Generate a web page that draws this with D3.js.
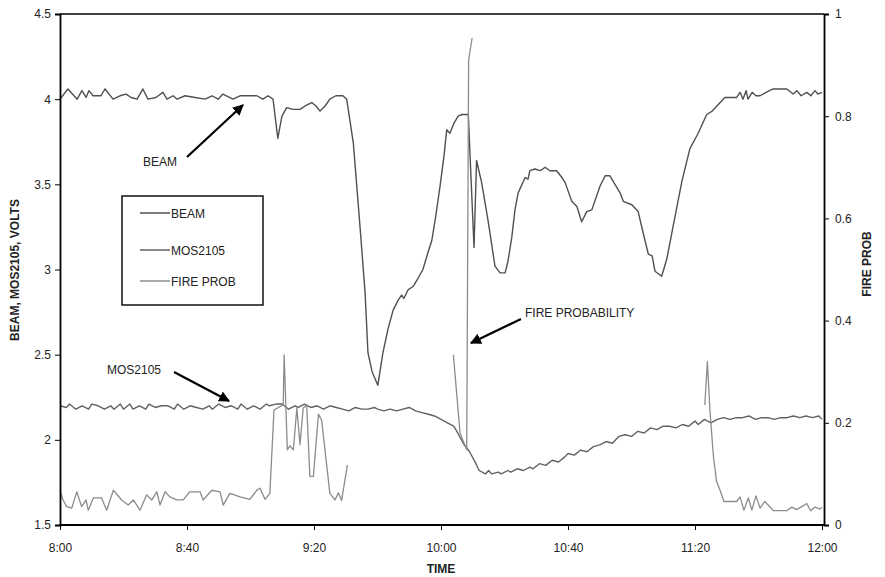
<!DOCTYPE html>
<html><head><meta charset="utf-8">
<script src="https://cdn.jsdelivr.net/npm/d3@7"></script>
<style>body{margin:0;background:#fff}svg{display:block;font-family:"Liberation Sans",Arial,sans-serif}</style>
</head><body><svg id="c" width="885" height="577"></svg>
<script>
// x values are minutes after 8:00
const xTickMinutes = [0, 40, 80, 120, 160, 200, 240];
const xTickLabels = ["8:00", "8:40", "9:20", "10:00", "10:40", "11:20", "12:00"];
const leftTicks = [1.5, 2, 2.5, 3, 3.5, 4, 4.5];
const rightTicks = [0, 0.2, 0.4, 0.6, 0.8, 1];

const beamMin = [0,2.5,5.4,6.9,8.2,9.1,10.4,12.9,14.2,16.7,18.9,20.8,22.4,24.3,26.1,27.7,30.2,32.4,33.7,35.6,36.9,39.4,42.5,45.7,47.9,49.8,51.3,54.5,56.7,62,63.9,65.5,67.1,68.6,69.9,71.4,73.4,75.6,77.2,79.3,80.6,81.9,83.5,85,86.9,89.1,90.3,92.4,94.5,96.1,97,98.3,100.1,101.7,103.3,104.9,106.5,107.6,108.3,109.6,111.2,112.8,114.3,115.9,117.1,118.4,119.7,120.9,121.8,122.8,124.1,125.4,126.6,128.1,128.6,130.4,131.2,132.8,134.8,137,138.6,140.2,141.1,142.3,143.3,144.3,146.5,147.4,148,149.6,151.2,152.8,154.3,156.4,158.1,159.1,161.2,162.8,164.3,165.9,167.5,170.1,171.7,173.2,174.8,176.4,177.4,180.1,182.1,183.6,185.3,186.5,187.4,189.5,191.1,193.7,195.9,198.4,201,202.2,203.7,205.4,206.9,209.4,213.1,214.2,215.1,216.1,216.7,218,219.2,220.5,222.4,224.6,228.9,230.9,232.1,233.4,235.2,236.5,237.8,238.7,240];
const beamVal = [4.00,4.06,4.00,4.05,4.01,4.05,4.02,4.02,4.06,4.00,4.02,4.03,4.01,4.00,4.06,4.00,4.01,4.04,4.00,4.02,4.00,4.02,4.01,4.00,4.02,4.00,4.03,4.00,4.02,4.02,4.00,4.02,4.00,3.77,3.90,3.95,3.94,3.94,3.96,3.98,3.96,3.93,3.96,4.00,4.02,4.02,4.00,3.74,3.25,2.86,2.51,2.40,2.32,2.51,2.65,2.76,2.82,2.85,2.83,2.88,2.90,2.95,3.00,3.10,3.17,3.32,3.49,3.66,3.82,3.80,3.86,3.90,3.91,3.91,3.91,3.13,3.64,3.51,3.29,3.02,2.98,2.98,3.05,3.19,3.35,3.45,3.54,3.53,3.58,3.59,3.58,3.60,3.58,3.58,3.54,3.51,3.40,3.37,3.28,3.34,3.35,3.49,3.55,3.55,3.50,3.45,3.40,3.38,3.34,3.22,3.09,3.08,2.99,2.96,3.06,3.31,3.52,3.71,3.80,3.85,3.91,3.93,3.96,4.01,4.01,4.04,4.00,4.05,4.00,4.04,4.02,4.02,4.04,4.06,4.06,4.03,4.05,4.02,4.04,4.02,4.05,4.03,4.04];

const mosMin = [0,2,3,5,7,9,10,12,14,16,17,19,20,22,23,25,27,28,30,32,34,36,37,39,41,43,45,47,48,50,52,54,56,57,59,61,63,65,66,68,70,72,74,75,77,79,81,83,85,87,89,91,93,95,97,99,100,102,104,106,108,110,112,114,116,118,120,122,124,125,127,129,131,132,134,135,136,138,139,141,142,144,146,148,149,151,153,155,157,159,160,162,164,166,168,170,172,174,176,178,180,182,184,186,188,190,192,194,196,198,200,201,203,205,207,209,211,213,215,217,219,221,223,225,227,229,231,233,235,237,239,240];
const mosVal = [2.20,2.19,2.21,2.18,2.20,2.18,2.21,2.20,2.18,2.20,2.18,2.21,2.18,2.21,2.18,2.20,2.18,2.21,2.19,2.20,2.20,2.18,2.21,2.18,2.20,2.19,2.18,2.20,2.18,2.21,2.19,2.20,2.18,2.21,2.18,2.20,2.18,2.21,2.20,2.21,2.21,2.18,2.20,2.19,2.21,2.19,2.20,2.18,2.20,2.19,2.18,2.17,2.19,2.18,2.18,2.19,2.18,2.17,2.18,2.17,2.18,2.19,2.17,2.16,2.15,2.14,2.12,2.10,2.08,2.05,1.98,1.93,1.86,1.82,1.80,1.82,1.80,1.81,1.80,1.82,1.81,1.83,1.82,1.84,1.83,1.86,1.85,1.88,1.87,1.90,1.92,1.91,1.94,1.93,1.96,1.97,1.99,1.98,2.02,2.03,2.02,2.05,2.04,2.07,2.06,2.08,2.08,2.07,2.09,2.08,2.11,2.09,2.12,2.10,2.12,2.13,2.12,2.13,2.13,2.14,2.12,2.13,2.13,2.12,2.13,2.13,2.14,2.13,2.14,2.13,2.14,2.12];

// null marks a gap in the fire-probability record
const fireMin = [0,0.9,2.1,3.7,5.3,6.8,8.2,8.9,10.5,13.1,14.7,16.8,19.4,21.5,23.1,25.2,27.3,28.9,30.5,31.5,33.1,34.6,36.8,38.8,40.9,44.1,45.1,47.8,50.4,51.4,53.5,56.7,59.8,62,63,64.6,66.1,67.4,70.3,70.6,71.6,72.4,73.5,74.6,75.6,76.6,77.7,78.7,79.8,81.4,82.4,85,86.6,87.7,88.7,90.5,100,123.9,126,128.1,128.7,129.8,170,203.1,203.9,204.7,205.8,206.8,207.9,209.1,213.1,214.2,215.4,216.8,217.9,219.2,220.5,222,224.7,228.9,230.5,232,233.6,235.2,236.4,237.8,239.4,240];
const fireVal = [0.068,0.05,0.036,0.033,0.065,0.036,0.049,0.029,0.053,0.053,0.029,0.068,0.049,0.039,0.049,0.029,0.059,0.049,0.065,0.039,0.065,0.055,0.049,0.049,0.065,0.065,0.049,0.068,0.065,0.039,0.062,0.055,0.05,0.068,0.072,0.05,0.062,0.225,0.235,0.333,0.147,0.155,0.147,0.229,0.157,0.229,0.235,0.095,0.095,0.217,0.205,0.062,0.049,0.063,0.048,0.117,null,0.333,0.18,0.147,0.91,0.953,null,0.235,0.32,0.225,0.134,0.085,0.068,0.046,0.046,0.055,0.029,0.053,0.029,0.057,0.033,0.046,0.028,0.028,0.035,0.03,0.036,0.042,0.028,0.035,0.031,0.035];

const legendLabels = ["BEAM", "MOS2105", "FIRE PROB"];
const colors = {beam: "#505050", mos: "#626262", fire: "#8c8c8c"};

const svg = d3.select("#c");
const L = 60, R = 824, T = 14, B = 525;
const x = d3.scaleLinear().domain([0, 240]).range([L, 822]);
const yL = d3.scaleLinear().domain([1.5, 4.5]).range([B, T]);
const yR = d3.scaleLinear().domain([0, 1]).range([B, T]);

// frame top
svg.append("line").attr("x1", L).attr("x2", R).attr("y1", T).attr("y2", T).attr("stroke", "#000").attr("stroke-width", 1.6);

const lineL = d3.line().defined(d => d[1] != null).x(d => x(d[0])).y(d => yL(d[1]));
const lineR = d3.line().defined(d => d[1] != null).x(d => x(d[0])).y(d => yR(d[1]));

svg.append("path").datum(beamMin.map((m, i) => [m, beamVal[i]])).attr("d", lineL)
  .attr("fill", "none").attr("stroke", colors.beam).attr("stroke-width", 1.4).attr("stroke-linejoin", "round");
svg.append("path").datum(mosMin.map((m, i) => [m, mosVal[i]])).attr("d", lineL)
  .attr("fill", "none").attr("stroke", colors.mos).attr("stroke-width", 1.4).attr("stroke-linejoin", "round");
svg.append("path").datum(fireMin.map((m, i) => [m, fireVal[i]])).attr("d", lineR)
  .attr("fill", "none").attr("stroke", colors.fire).attr("stroke-width", 1.3).attr("stroke-linejoin", "round");

// axes
const fmt = d => String(d);
const gL = svg.append("g").attr("transform", `translate(${L},0)`)
  .call(d3.axisLeft(yL).tickValues(leftTicks).tickFormat(fmt).tickSize(5).tickPadding(4));
const gR = svg.append("g").attr("transform", `translate(${R},0)`)
  .call(d3.axisRight(yR).tickValues(rightTicks).tickFormat(fmt).tickSize(5).tickPadding(6));
const gB = svg.append("g").attr("transform", `translate(0,${B})`)
  .call(d3.axisBottom(x).tickValues(xTickMinutes).tickFormat((d, i) => xTickLabels[i]).tickSize(5).tickPadding(13));
gB.select(".domain").attr("d", `M${L},0H${R}`);
[gL, gR, gB].forEach(g => {
  g.selectAll(".domain").attr("stroke", "#000").attr("stroke-width", 1.8);
  g.selectAll(".tick line").attr("stroke", "#000").attr("stroke-width", 1);
  g.selectAll("text").attr("font-size", 12).attr("fill", "#222").attr("font-family", "Liberation Sans, Arial, sans-serif");
});

// axis titles
svg.append("text").attr("transform", "translate(19,270) rotate(-90)").attr("text-anchor", "middle")
  .attr("font-size", 12).attr("font-weight", "bold").attr("fill", "#222").text("BEAM, MOS2105, VOLTS");
svg.append("text").attr("transform", "translate(871,264) rotate(-90)").attr("text-anchor", "middle")
  .attr("font-size", 12).attr("font-weight", "bold").attr("fill", "#222").text("FIRE PROB");
svg.append("text").attr("x", 441).attr("y", 573).attr("text-anchor", "middle")
  .attr("font-size", 12).attr("font-weight", "bold").attr("fill", "#222").text("TIME");

// legend
svg.append("rect").attr("x", 122).attr("y", 196).attr("width", 141).attr("height", 109)
  .attr("fill", "#fff").attr("stroke", "#111").attr("stroke-width", 1.5);
const legColors = [colors.beam, colors.mos, colors.fire];
const legY = [213, 250, 281];
legendLabels.forEach((t, i) => {
  svg.append("line").attr("x1", 140).attr("x2", 170).attr("y1", legY[i]).attr("y2", legY[i])
    .attr("stroke", legColors[i]).attr("stroke-width", 1.5);
  svg.append("text").attr("x", 171).attr("y", legY[i] + 4.5).attr("font-size", 12).attr("fill", "#222").text(t);
});

// annotations
const defs = svg.append("defs");
defs.append("marker").attr("id", "ah").attr("viewBox", "0 0 10 10").attr("refX", 9).attr("refY", 5)
  .attr("markerWidth", 5).attr("markerHeight", 5).attr("orient", "auto")
  .append("path").attr("d", "M0,0L10,5L0,10z").attr("fill", "#000");
function note(txt, tx, ty, x1, y1, x2, y2) {
  svg.append("text").attr("x", tx).attr("y", ty).attr("font-size", 12).attr("fill", "#222").text(txt);
  svg.append("line").attr("x1", x1).attr("y1", y1).attr("x2", x2).attr("y2", y2)
    .attr("stroke", "#000").attr("stroke-width", 2.2).attr("marker-end", "url(#ah)");
}
note("BEAM", 143, 166, 187, 157, 243, 105);
note("MOS2105", 107, 374, 174, 372, 229, 401);
note("FIRE PROBABILITY", 525, 317, 521, 319, 471, 343);
</script></body></html>
